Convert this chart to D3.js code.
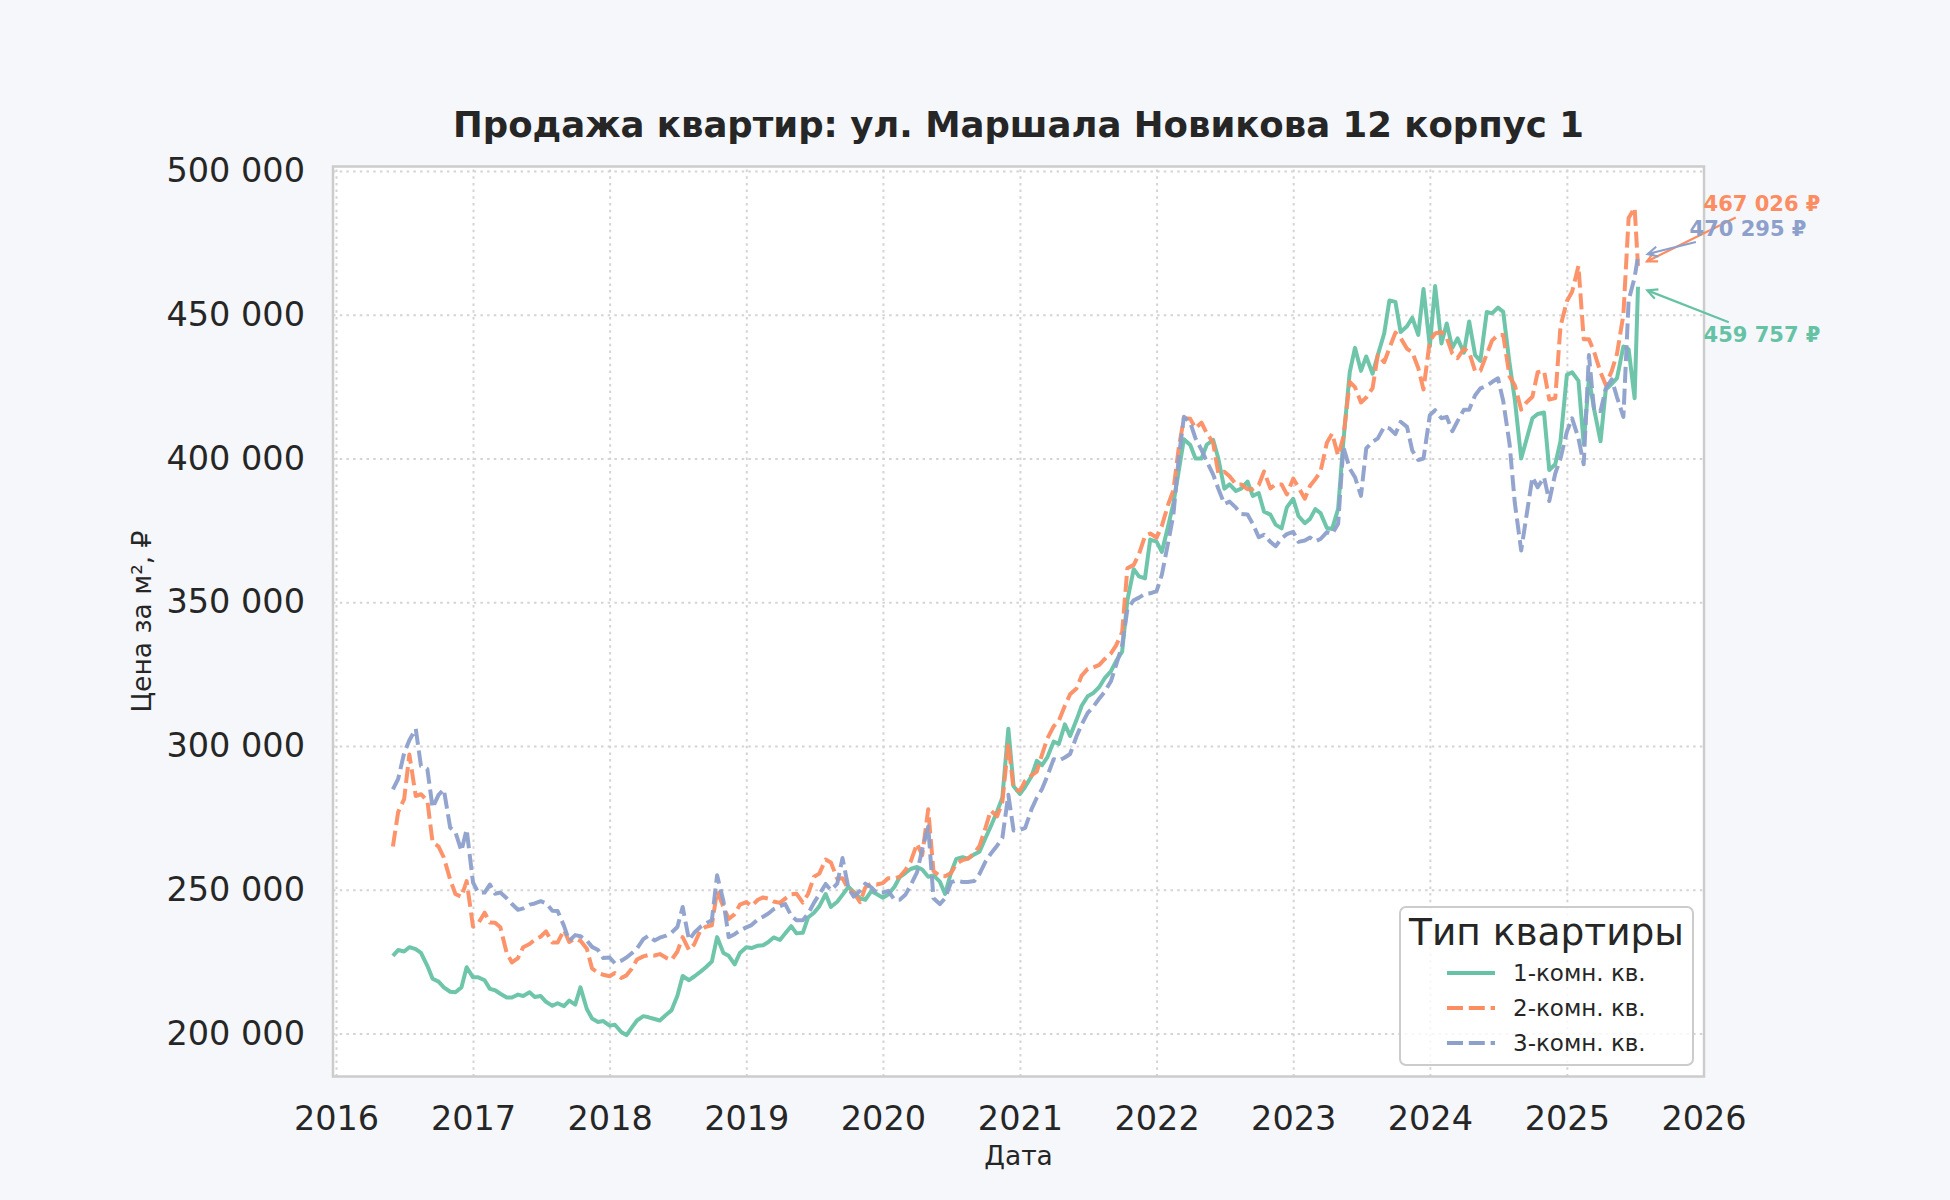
<!DOCTYPE html>
<html>
<head>
    <meta charset="utf-8">
    <title>Продажа квартир: ул. Маршала Новикова 12 корпус 1</title>
</head>
<body style="margin:0; background:#f5f7fa;">
<style type="text/css">
    #renderer {
        display: block;
        background: #f5f7fa;
        font-family: "DejaVu Sans", sans-serif;
    }
</style>
<script type="text/javascript" src="https://cdnjs.cloudflare.com/ajax/libs/d3/7.8.5/d3.min.js"></script>
<svg id="renderer" width="1950" height="1200"></svg>

<script type="text/javascript">
    var total_width = 1950;
    var total_height = 1200;

    var root = d3.select('#renderer');

    // 1. data
    // dates of the observations (twice a month)
    var dates = [
        "2016-06-01","2016-06-15","2016-07-01","2016-07-15","2016-08-01","2016-08-15","2016-09-01","2016-09-15","2016-10-01","2016-10-15","2016-11-01","2016-11-15","2016-12-01","2016-12-15",
        "2017-01-01","2017-01-15","2017-02-01","2017-02-15","2017-03-01","2017-03-15","2017-04-01","2017-04-15","2017-05-01","2017-05-15","2017-06-01","2017-06-15","2017-07-01","2017-07-15","2017-08-01","2017-08-15","2017-09-01","2017-09-15","2017-10-01","2017-10-15","2017-11-01","2017-11-15","2017-12-01","2017-12-15",
        "2018-01-01","2018-01-15","2018-02-01","2018-02-15","2018-03-01","2018-03-15","2018-04-01","2018-04-15","2018-05-01","2018-05-15","2018-06-01","2018-06-15","2018-07-01","2018-07-15","2018-08-01","2018-08-15","2018-09-01","2018-09-15","2018-10-01","2018-10-15","2018-11-01","2018-11-15","2018-12-01","2018-12-15",
        "2019-01-01","2019-01-15","2019-02-01","2019-02-15","2019-03-01","2019-03-15","2019-04-01","2019-04-15","2019-05-01","2019-05-15","2019-06-01","2019-06-15","2019-07-01","2019-07-15","2019-08-01","2019-08-15","2019-09-01","2019-09-15","2019-10-01","2019-10-15","2019-11-01","2019-11-15","2019-12-01","2019-12-15",
        "2020-01-01","2020-01-15","2020-02-01","2020-02-15","2020-03-01","2020-03-15","2020-04-01","2020-04-15","2020-05-01","2020-05-15","2020-06-01","2020-06-15","2020-07-01","2020-07-15","2020-08-01","2020-08-15","2020-09-01","2020-09-15","2020-10-01","2020-10-15","2020-11-01","2020-11-15","2020-12-01","2020-12-15",
        "2021-01-01","2021-01-15","2021-02-01","2021-02-15","2021-03-01","2021-03-15","2021-04-01","2021-04-15","2021-05-01","2021-05-15","2021-06-01","2021-06-15","2021-07-01","2021-07-15","2021-08-01","2021-08-15","2021-09-01","2021-09-15","2021-10-01","2021-10-15","2021-11-01","2021-11-15","2021-12-01","2021-12-15",
        "2022-01-01","2022-01-15","2022-02-01","2022-02-15","2022-03-01","2022-03-15","2022-04-01","2022-04-15","2022-05-01","2022-05-15","2022-06-01","2022-06-15","2022-07-01","2022-07-15","2022-08-01","2022-08-15","2022-09-01","2022-09-15","2022-10-01","2022-10-15","2022-11-01","2022-11-15","2022-12-01","2022-12-15",
        "2023-01-01","2023-01-15","2023-02-01","2023-02-15","2023-03-01","2023-03-15","2023-04-01","2023-04-15","2023-05-01","2023-05-15","2023-06-01","2023-06-15","2023-07-01","2023-07-15","2023-08-01","2023-08-15","2023-09-01","2023-09-15","2023-10-01","2023-10-15","2023-11-01","2023-11-15","2023-12-01","2023-12-15",
        "2024-01-01","2024-01-15","2024-02-01","2024-02-15","2024-03-01","2024-03-15","2024-04-01","2024-04-15","2024-05-01","2024-05-15","2024-06-01","2024-06-15","2024-07-01","2024-07-15","2024-08-01","2024-08-15","2024-09-01","2024-09-15","2024-10-01","2024-10-15","2024-11-01","2024-11-15","2024-12-01","2024-12-15",
        "2025-01-01","2025-01-15","2025-02-01","2025-02-15","2025-03-01","2025-03-15","2025-04-01","2025-04-15","2025-05-01","2025-05-15","2025-06-01","2025-06-15","2025-07-01","2025-07-10"
    ];

    // price per m2, 1-room flats
    var one_room = [
        227000, 229000, 228500, 230000, 229300, 228000, 223500, 219000, 218000, 216000, 214500, 214300, 216000, 223000,
        219500, 219500, 218500, 215500, 215000, 213800, 212500, 212500, 213500, 213000, 214300, 212700, 213000, 211000, 209600, 210500, 209500, 211400, 210000, 216000, 208500, 205200, 204000, 204300,
        202700, 203000, 200500, 199400, 202000, 204500, 206000, 205600, 205000, 204500, 206500, 208000, 213100, 220000, 218500, 219800, 221500, 223000, 225000, 233500, 228000, 227000, 224000, 228000,
        230000, 229700, 230500, 230700, 231800, 233400, 232500, 234800, 237300, 234800, 235000, 240300, 242000, 244200, 248500, 244000, 245800, 248200, 251000, 249200, 247000, 246500, 249500, 248500,
        247200, 248300, 251000, 254400, 255800, 257200, 257900, 257000, 254500, 255000, 252800, 248500, 256000, 260700, 261300, 260800, 262300, 263200, 268000, 272000, 277200, 282000, 306000, 286000,
        283300, 285800, 289500, 294800, 293300, 296000, 301500, 300700, 307500, 303500, 309000, 314000, 317300, 318300, 320500, 323500, 326000, 329500, 332800, 350700, 361500, 359000, 358300, 371800,
        371100, 367500, 376500, 384500, 395500, 406700, 404700, 400000, 400000, 404800, 406500, 400000, 389500, 391000, 388700, 389500, 392000, 387000, 388000, 381500, 380500, 377000, 375700, 383000,
        386000, 380000, 377500, 379000, 382400, 381000, 375800, 375500, 382500, 406000, 430000, 438500, 430500, 435500, 429500, 436000, 443500, 455000, 454500, 444000, 446000, 449000, 443000, 459000,
        439000, 460000, 440000, 447000, 438500, 441800, 436800, 447700, 436000, 434000, 451000, 450500, 452500, 451000, 433000, 420500, 400000, 406500, 414000, 415500, 416000, 396000, 398000, 406000,
        429100, 430000, 427000, 405000, 428000, 417000, 406000, 424000, 426000, 428000, 439000, 438000, 421000, 459757
    ];

    // price per m2, 2-room flats
    var two_room = [
        265000, 277000, 281500, 297000, 282600, 283200, 281000, 266500, 265000, 261200, 253500, 248500, 247500, 253000,
        237200, 238300, 242000, 238600, 238500, 236900, 228000, 224700, 226200, 230000, 231100, 232600, 233700, 235500, 231600, 231600, 236000, 231800, 233000, 232200, 229500, 222600, 221000, 220400,
        219900, 221000, 219300, 220200, 222500, 225700, 226800, 227300, 227100, 227600, 226300, 225500, 228500, 233500, 229000, 231000, 236000, 237100, 237600, 249500, 244000, 239800, 241500, 244800,
        245700, 244300, 246500, 247300, 246900, 245900, 245400, 246900, 248400, 248600, 245500, 248500, 254500, 255600, 260500, 259500, 253800, 254000, 250000, 249000, 245700, 250800, 252100, 251800,
        252300, 254000, 254000, 254500, 256800, 259700, 266000, 262000, 278000, 256500, 254800, 254700, 255800, 259000, 260300, 260800, 262700, 265200, 271500, 277500, 275500, 280500, 301000, 285000,
        284400, 287900, 289800, 291100, 297000, 302500, 306800, 308800, 314000, 318000, 320000, 324500, 326800, 327300, 328200, 330200, 332200, 335000, 339600, 361800, 363000, 366700, 373000, 373900,
        372500, 376500, 384000, 389000, 403500, 414000, 413800, 410500, 412500, 408800, 405500, 394800, 395400, 393800, 391000, 391000, 389300, 389400, 390800, 395500, 389600, 391000, 391000, 387500,
        393000, 390000, 386000, 390500, 392800, 395500, 405500, 408700, 401000, 407500, 426700, 424800, 419500, 421200, 424500, 436000, 433500, 438400, 443800, 441900, 438200, 437000, 431500, 424000,
        441000, 443500, 444000, 442000, 436500, 434900, 438200, 437000, 430300, 430500, 436300, 441000, 443000, 443000, 428500, 425500, 417000, 419500, 421500, 430000, 430500, 420500, 421000, 446000,
        454700, 458000, 467000, 441500, 441500, 437000, 430000, 425600, 430500, 436500, 450000, 483700, 487200, 467026
    ];

    // price per m2, 3-room flats
    var three_room = [
        284900, 288500, 297500, 302000, 306000, 293000, 292000, 278500, 283000, 284900, 271600, 270000, 263500, 271000,
        252500, 249000, 249000, 251800, 248600, 249000, 247000, 245000, 243000, 243500, 244800, 245200, 246000, 245300, 242700, 242600, 237400, 232200, 234200, 233800, 232300, 230100, 229000, 226200,
        226400, 224400, 225300, 226400, 227900, 229500, 232800, 234000, 232300, 233300, 234000, 235000, 237000, 244000, 232500, 235000, 237100, 238300, 239400, 255000, 246000, 233500, 234500, 235800,
        236900, 237700, 239700, 240600, 241700, 243200, 244300, 245000, 241000, 239400, 239400, 241600, 245500, 248400, 252000, 249800, 252100, 261000, 250500, 247600, 249600, 252100, 250800, 248900,
        249000, 249600, 246500, 246500, 248200, 251500, 256000, 264000, 272000, 247000, 245000, 247000, 252600, 253200, 252700, 252700, 253000, 255500, 259800, 262500, 265300, 268000, 283000, 270600,
        270800, 271500, 278000, 282000, 285000, 289500, 295400, 294900, 296000, 297200, 303300, 307500, 311500, 313500, 316500, 318800, 322500, 328200, 335000, 347500, 350700, 351600, 352900, 353100,
        353900, 359500, 370800, 380500, 400000, 414500, 412500, 407000, 403000, 399000, 394500, 389500, 384200, 385000, 382900, 380700, 380500, 377300, 372600, 373500, 371000, 369500, 372200, 373700,
        374500, 371000, 371500, 372500, 371200, 372000, 374400, 373800, 377300, 404000, 396500, 393500, 387000, 403500, 405800, 407000, 411000, 410500, 408500, 412800, 411000, 402800, 399500, 400000,
        415100, 416800, 414000, 414500, 409500, 413000, 417000, 417000, 422000, 424400, 425300, 426600, 427900, 420000, 405000, 384500, 368000, 380000, 393500, 390000, 393500, 385200, 394800, 400000,
        409300, 414000, 407000, 398000, 436000, 416500, 416500, 424400, 427500, 421300, 414500, 455000, 463000, 470295
    ];

    var series_names = ['1-комн. кв.', '2-комн. кв.', '3-комн. кв.'];
    var y_ticks = [200000, 250000, 300000, 350000, 400000, 450000, 500000];
    var x_ticks = ['2016-01-01', '2017-01-01', '2018-01-01', '2019-01-01', '2020-01-01', '2021-01-01',
                   '2022-01-01', '2023-01-01', '2024-01-01', '2025-01-01', '2026-01-01'];

    // 2. layout
    var plot_left = 333, plot_right = 1704, plot_top = 166.5, plot_bottom = 1076.5;
    var text_color = '#262626';
    var colors = ['#66c2a5', '#fc8d62', '#8da0cb'];
    var dashes = [null, '16 5.8', '16 5.8'];
    var line_width = 4;

    var parse = d3.utcParse('%Y-%m-%d');
    var fmt = function (v) { return d3.format(',.0f')(v).replace(/,/g, ' '); };

    var series = [one_room, two_room, three_room].map(function (values, i) {
        return { name: series_names[i], values: values };
    });

    var all_values = one_room.concat(two_room, three_room);
    var y_min = d3.min(all_values), y_max = d3.max(all_values);
    var y_pad = (y_max - y_min) * 0.05;

    var x = d3.scaleUtc()
        .domain([parse(x_ticks[0]), parse(x_ticks[x_ticks.length - 1])])
        .range([336, 1703.5]);
    var y = d3.scaleLinear()
        .domain([y_min - y_pad, y_max + y_pad])
        .range([plot_bottom, plot_top]);

    // 3. draw
    // plot background
    root.append('rect')
        .attr('x', plot_left).attr('y', plot_top)
        .attr('width', plot_right - plot_left).attr('height', plot_bottom - plot_top)
        .attr('fill', '#ffffff');

    // grid
    var grid_style = function (g) {
        g.select('.domain').remove();
        g.selectAll('line')
            .attr('stroke', '#d4d4d4')
            .attr('stroke-width', 2)
            .attr('stroke-dasharray', '2.5 4.2');
    };
    root.append('g')
        .attr('transform', 'translate(0,' + plot_bottom + ')')
        .call(d3.axisBottom(x).tickValues(x_ticks.map(parse)).tickSize(-(plot_bottom - plot_top)).tickFormat(''))
        .call(grid_style);
    root.append('g')
        .attr('transform', 'translate(' + plot_left + ',0)')
        .call(d3.axisLeft(y).tickValues(y_ticks).tickSize(-(plot_right - plot_left)).tickFormat(''))
        .call(grid_style);

    // lines
    var line = d3.line()
        .x(function (d, i) { return x(parse(dates[i])); })
        .y(function (d) { return y(d); });

    series.forEach(function (s, i) {
        root.append('path')
            .datum(s.values)
            .attr('d', line)
            .attr('fill', 'none')
            .attr('stroke', colors[i])
            .attr('stroke-width', line_width)
            .attr('stroke-linejoin', 'round')
            .attr('stroke-dasharray', dashes[i])
            .attr('opacity', 0.95);
    });

    // frame
    root.append('rect')
        .attr('x', plot_left).attr('y', plot_top)
        .attr('width', plot_right - plot_left).attr('height', plot_bottom - plot_top)
        .attr('fill', 'none')
        .attr('stroke', '#cccccc')
        .attr('stroke-width', 2.5);

    // axes
    var y_axis = root.append('g')
        .attr('transform', 'translate(' + plot_left + ',0)')
        .call(d3.axisLeft(y).tickValues(y_ticks).tickSize(0).tickPadding(28).tickFormat(fmt));
    var x_axis = root.append('g')
        .attr('transform', 'translate(0,' + plot_bottom + ')')
        .call(d3.axisBottom(x).tickValues(x_ticks.map(parse)).tickSize(0).tickPadding(30).tickFormat(d3.utcFormat('%Y')));
    [y_axis, x_axis].forEach(function (g) {
        g.select('.domain').remove();
        g.selectAll('text')
            .attr('font-family', '"DejaVu Sans", sans-serif')
            .attr('font-size', 33.5)
            .attr('fill', text_color);
    });

    // title and axis labels
    root.append('text')
        .attr('x', 1018.5).attr('y', 136.5)
        .attr('text-anchor', 'middle')
        .attr('font-size', 35.5)
        .attr('font-weight', 'bold')
        .attr('fill', text_color)
        .text('Продажа квартир: ул. Маршала Новикова 12 корпус 1');

    root.append('text')
        .attr('x', 1018.5).attr('y', 1164.5)
        .attr('text-anchor', 'middle')
        .attr('font-size', 26.5)
        .attr('fill', text_color)
        .text('Дата');

    root.append('text')
        .attr('transform', 'translate(151,621.5) rotate(-90)')
        .attr('text-anchor', 'middle')
        .attr('font-size', 26.5)
        .attr('fill', text_color)
        .text('Цена за м², ₽');

    // last value labels with arrows
    var last = dates.length - 1;
    var label_offsets = [[124, 48], [124, -62], [110, -28]];

    series.forEach(function (s, i) {
        var px = x(parse(dates[last]));
        var py = y(s.values[last]);
        var cx = px + label_offsets[i][0];
        var cy = py + label_offsets[i][1];

        var t = root.append('text')
            .attr('x', cx).attr('y', cy)
            .attr('dy', '0.36em')
            .attr('text-anchor', 'middle')
            .attr('font-size', 21)
            .attr('font-weight', 'bold')
            .attr('fill', colors[i])
            .text(fmt(s.values[last]) + ' ₽');

        var b = t.node().getBBox();
        var bx = b.x + b.width / 2, by = b.y + b.height / 2;
        var dx = px - bx, dy = py - by;
        var k = Math.min((b.width / 2 + 3) / Math.abs(dx), (b.height / 2 + 1) / Math.abs(dy));
        var sx = bx + dx * k, sy = by + dy * k;
        var len = Math.sqrt((px - sx) * (px - sx) + (py - sy) * (py - sy));
        var ux = (px - sx) / len, uy = (py - sy) / len;
        var ex = px - ux * 10, ey = py - uy * 10;

        root.append('line')
            .attr('x1', sx).attr('y1', sy).attr('x2', ex).attr('y2', ey)
            .attr('stroke', colors[i]).attr('stroke-width', 2.2);
        root.append('path')
            .attr('d', 'M' + (ex - ux * 10 - uy * 5) + ',' + (ey - uy * 10 + ux * 5) +
                       'L' + ex + ',' + ey +
                       'L' + (ex - ux * 10 + uy * 5) + ',' + (ey - uy * 10 - ux * 5))
            .attr('fill', 'none')
            .attr('stroke', colors[i]).attr('stroke-width', 2.2);
    });

    // legend
    var legend = root.append('g');
    legend.append('rect')
        .attr('x', 1400).attr('y', 907)
        .attr('width', 293).attr('height', 158)
        .attr('rx', 6)
        .attr('fill', '#ffffff').attr('fill-opacity', 0.8)
        .attr('stroke', '#cccccc').attr('stroke-width', 2);
    legend.append('text')
        .attr('x', 1546.5).attr('y', 945)
        .attr('text-anchor', 'middle')
        .attr('font-size', 37.5)
        .attr('fill', text_color)
        .text('Тип квартиры');

    series.forEach(function (s, i) {
        var ly = 973 + i * 35;
        legend.append('line')
            .attr('x1', 1447).attr('x2', 1495)
            .attr('y1', ly).attr('y2', ly)
            .attr('stroke', colors[i])
            .attr('stroke-width', line_width)
            .attr('stroke-dasharray', dashes[i]);
        legend.append('text')
            .attr('x', 1513).attr('y', ly + 8.3)
            .attr('font-size', 23)
            .attr('fill', text_color)
            .text(s.name);
    });
</script>
</body>
</html>
